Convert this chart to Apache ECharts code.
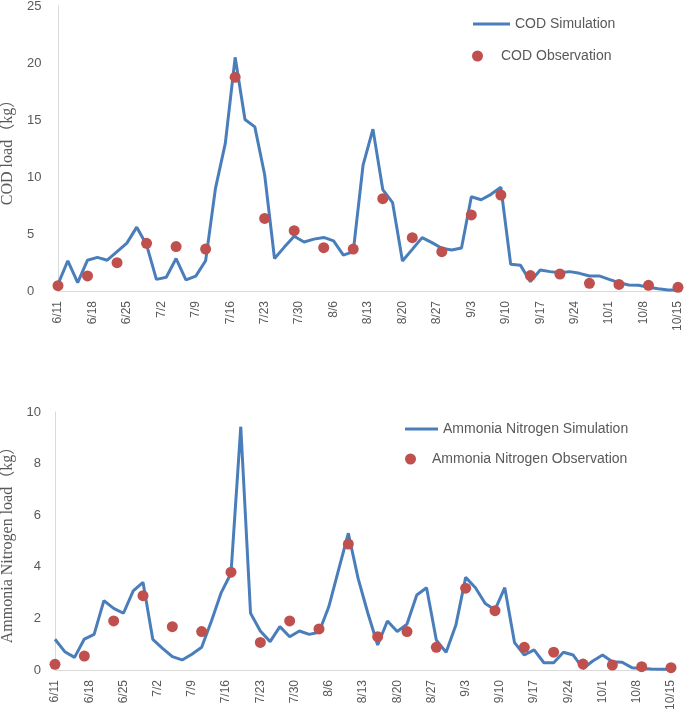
<!DOCTYPE html>
<html>
<head>
<meta charset="utf-8">
<script src="https://cdn.jsdelivr.net/npm/echarts@6/dist/echarts.min.js"></script>
<style>html,body{margin:0;padding:0;background:#fff}#c{width:685px;height:717px}</style>
</head>
<body>
<div id="c"></div>
<script>
// x positions are days after 6/11; simulations every 2 days, observations every 6 days
const tickLabels = ['6/11','6/18','6/25','7/2','7/9','7/16','7/23','7/30','8/6','8/13','8/20','8/27','9/3','9/10','9/17','9/24','10/1','10/8','10/15'];
const simStepDays = 2;
const obsStepDays = 6;
const codSim = [0.6,2.65,0.73,2.7,2.95,2.7,3.45,4.2,5.6,4.05,1.02,1.2,2.85,0.97,1.3,2.65,
  9.0,12.95,20.5,15.05,14.4,10.2,2.85,3.85,4.8,4.3,4.55,4.7,4.4,3.15,3.45,11.05,
  14.2,8.9,7.75,2.63,3.65,4.68,4.24,3.75,3.6,3.77,8.27,8.0,8.48,9.1,2.34,2.25,
  0.82,1.84,1.7,1.6,1.7,1.55,1.32,1.32,1.02,0.73,0.53,0.5,0.32,0.2,0.09,0.09];
const codObs = [0.47,1.32,2.48,4.18,3.9,3.68,18.75,6.37,5.29,3.8,3.68,8.1,4.68,3.45,6.67,8.42,1.35,1.49,0.67,0.58,0.5,0.32];
const nhSim = [1.19,0.71,0.49,1.2,1.38,2.69,2.39,2.2,3.07,3.4,1.19,0.84,0.52,0.39,0.61,0.88,
  1.9,3.0,3.75,9.43,2.2,1.51,1.1,1.68,1.29,1.51,1.38,1.46,2.45,3.88,5.3,3.55,
  2.2,0.97,1.9,1.49,1.78,2.91,3.19,1.16,0.69,1.74,3.59,3.19,2.58,2.33,3.19,1.06,
  0.58,0.78,0.28,0.28,0.69,0.58,0.06,0.35,0.58,0.32,0.3,0.09,0.06,0.04,0.03,0.03];
const nhObs = [0.22,0.54,1.9,2.88,1.68,1.49,3.79,1.07,1.9,1.59,4.88,1.29,1.49,0.88,3.17,2.3,0.88,0.69,0.23,0.19,0.13,0.09];

const toPairs = (arr, step) => arr.map((v, i) => [i * step, v]);
const gray = '#595959';
const axisCol = '#D9D9D9';
const blue = '#4A7EBB';
const red = '#C0504D';
const sans = 'Liberation Sans';
const serif = '"Liberation Serif", "Noto Sans CJK SC"';

function xAxis(gi) {
  return {
    type: 'value', gridIndex: gi, min: 0, max: 126, interval: 7,
    axisLine: {show: true, lineStyle: {color: axisCol, width: 1}},
    axisTick: {show: false}, splitLine: {show: false},
    axisLabel: {rotate: 90, margin: 10, color: gray, fontSize: 12, fontFamily: sans,
      formatter: v => tickLabels[Math.round(v / 7)] || ''}
  };
}

const option = {
  animation: false,
  backgroundColor: '#fff',
  grid: [
    {left: 58, right: 7, top: 6, bottom: 426, containLabel: false, outerBoundsMode: 'none'},
    {left: 55, right: 14, top: 412, bottom: 47, containLabel: false, outerBoundsMode: 'none'}
  ],
  xAxis: [xAxis(0), xAxis(1)],
  yAxis: [
    {type: 'value', gridIndex: 0, min: 0, max: 25, interval: 5,
     axisLine: {show: true, lineStyle: {color: axisCol}}, axisTick: {show: false}, splitLine: {show: false},
     axisLabel: {color: gray, fontSize: 13, fontFamily: sans, align: 'left', margin: 31},
     name: 'COD load（kg）', nameLocation: 'middle', nameRotate: 90, nameGap: 38,
     nameTextStyle: {color: gray, fontSize: 16, fontFamily: serif}},
    {type: 'value', gridIndex: 1, min: 0, max: 10, interval: 2,
     axisLine: {show: true, lineStyle: {color: axisCol}}, axisTick: {show: false}, splitLine: {show: false},
     axisLabel: {color: gray, fontSize: 13, fontFamily: sans, margin: 14},
     name: 'Ammonia Nitrogen load（kg）', nameLocation: 'middle', nameRotate: 90, nameGap: 36,
     nameTextStyle: {color: gray, fontSize: 16, fontFamily: serif}}
  ],
  legend: [
    {left: 468, top: 12, data: [{name: 'COD Simulation', icon: 'rect'}], itemWidth: 37, itemHeight: 3,
     textStyle: {color: gray, fontSize: 14, fontFamily: sans}},
    {left: 467, top: 44, data: [{name: 'COD Observation', icon: 'circle'}], itemWidth: 37, itemHeight: 11,
     textStyle: {color: gray, fontSize: 14, fontFamily: sans}},
    {left: 400, top: 417, data: [{name: 'Ammonia Nitrogen Simulation', icon: 'rect'}], itemWidth: 33, itemHeight: 3,
     textStyle: {color: gray, fontSize: 14, fontFamily: sans}},
    {left: 400, top: 447, data: [{name: 'Ammonia Nitrogen Observation', icon: 'circle'}], itemWidth: 33, itemHeight: 11,
     textStyle: {color: gray, fontSize: 14, fontFamily: sans}}
  ],
  series: [
    {name: 'COD Simulation', type: 'line', xAxisIndex: 0, yAxisIndex: 0, data: toPairs(codSim, simStepDays),
     symbol: 'none', lineStyle: {color: blue, width: 3}, itemStyle: {color: blue}, z: 2},
    {name: 'COD Observation', type: 'scatter', xAxisIndex: 0, yAxisIndex: 0, data: toPairs(codObs, obsStepDays),
     symbolSize: 11, itemStyle: {color: red, opacity: 1}, z: 3},
    {name: 'Ammonia Nitrogen Simulation', type: 'line', xAxisIndex: 1, yAxisIndex: 1, data: toPairs(nhSim, simStepDays),
     symbol: 'none', lineStyle: {color: blue, width: 3}, itemStyle: {color: blue}, z: 2},
    {name: 'Ammonia Nitrogen Observation', type: 'scatter', xAxisIndex: 1, yAxisIndex: 1, data: toPairs(nhObs, obsStepDays),
     symbolSize: 11, itemStyle: {color: red, opacity: 1}, z: 3}
  ]
};
const chart = echarts.init(document.getElementById('c'), null, {renderer: 'canvas'});
chart.setOption(option);
</script>
</body>
</html>
